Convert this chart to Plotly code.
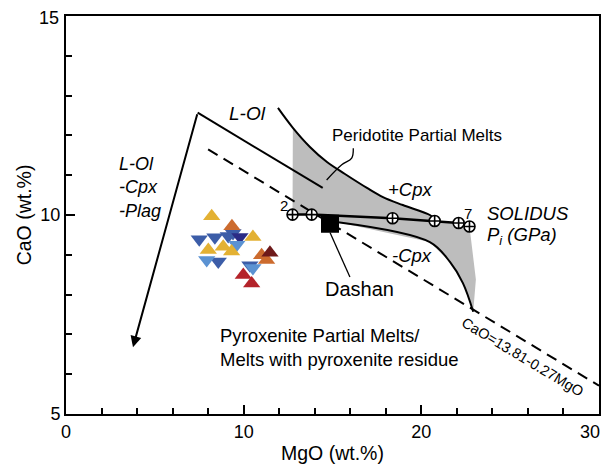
import plotly.graph_objects as go

# ---- data ----
solidus_mgo = [12.75, 13.83, 18.38, 20.75, 22.10, 22.71]
solidus_cao = [10.01, 10.01, 9.92, 9.85, 9.80, 9.71]

dashan_mgo = [14.86]
dashan_cao = [9.78]

upper_curve_mgo = [11.93, 12.77, 13.73, 14.69, 15.70, 16.94, 17.84, 18.96, 20.48, 20.82]
upper_curve_cao = [12.69, 12.19, 11.71, 11.33, 11.03, 10.68, 10.45, 10.25, 10.00, 9.88]

lower_curve_mgo = [15.31, 20.48, 21.61, 22.34, 22.92]
lower_curve_cao = [9.82, 9.32, 8.82, 8.29, 7.57]

right_edge_mgo = [22.79, 23.07, 22.92]
right_edge_cao = [9.71, 8.38, 7.57]

left_edge_mgo = [12.77, 12.77]
left_edge_cao = [12.30, 10.01]

lol_mgo = [14.45, 7.41]
lol_cao = [10.68, 12.57]
arrow_tip_mgo = 3.77
arrow_tip_cao = 6.68

regr_mgo = [8.0, 30.0]
regr_cao = [11.65, 5.71]

brace_mgo = [16.17, 16.08, 15.52, 14.67]
brace_cao = [11.68, 11.43, 11.26, 10.88]

dashan_leader_mgo = [14.86, 15.98]
dashan_leader_cao = [9.56, 8.44]

yellow_up_mgo = [8.20, 8.85, 8.01, 10.52, 9.32]
yellow_up_cao = [9.97, 9.20, 9.12, 9.45, 9.08]
orange_up_mgo = [9.34, 11.01, 11.29]
orange_up_cao = [9.72, 8.99, 8.87]
darkred_up_mgo = [11.48]
darkred_up_cao = [9.05]
red_up_mgo = [9.98, 10.45]
red_up_cao = [8.49, 8.28]
blue_dn_mgo = [7.50, 8.38, 9.13, 8.57, 10.35, 9.40]
blue_dn_cao = [9.39, 9.44, 9.47, 8.83, 8.74, 9.55]
navy_dn_mgo = [9.79]
navy_dn_cao = [9.45]
lblue_dn_mgo = [7.92, 9.61, 10.52]
lblue_dn_cao = [8.87, 9.25, 8.67]

x_ticks = [0, 10, 20, 30]
x_ticklabels = ["0", "10", "20", "30"]
y_ticks = [5, 10, 15]
y_ticklabels = ["5", "10", "15"]

FONT = "Liberation Sans"

fig = go.Figure()

# grey peridotite field
poly_x = (left_edge_mgo[:1] + upper_curve_mgo[1:] + solidus_mgo[3:] + right_edge_mgo[1:]
          + lower_curve_mgo[::-1][1:] + [solidus_mgo[1], solidus_mgo[0]])
poly_y = (left_edge_cao[:1] + upper_curve_cao[1:] + solidus_cao[3:] + right_edge_cao[1:]
          + lower_curve_cao[::-1][1:] + [solidus_cao[1], solidus_cao[0]])
fig.add_trace(go.Scatter(x=poly_x, y=poly_y, fill="toself", fillcolor="#BDBDBD",
                         line=dict(width=0), mode="lines", hoverinfo="skip"))

def line(x, y, w=2, dash=None, shape="linear"):
    fig.add_trace(go.Scatter(x=x, y=y, mode="lines",
                             line=dict(color="black", width=w, dash=dash, shape=shape)))

line(upper_curve_mgo, upper_curve_cao, shape="spline")
line(lower_curve_mgo, lower_curve_cao, shape="spline")
line(lol_mgo, lol_cao)
line(regr_mgo, regr_cao, dash="11px,7px")
line(brace_mgo, brace_cao, w=1.3, shape="spline")
line(dashan_leader_mgo, dashan_leader_cao, w=1.3)
line(solidus_mgo[:5], solidus_cao[:5], w=2.5)

# solidus points
fig.add_trace(go.Scatter(x=solidus_mgo, y=solidus_cao, mode="markers",
                         marker=dict(symbol="circle-cross", size=11, color="white",
                                     line=dict(color="black", width=1.6))))

# triangles
def tri(x, y, sym, col):
    fig.add_trace(go.Scatter(x=x, y=y, mode="markers",
                             marker=dict(symbol=sym, size=15, color=col, line=dict(width=0))))

tri(blue_dn_mgo, blue_dn_cao, "triangle-down", "#3C5DA8")
tri(navy_dn_mgo, navy_dn_cao, "triangle-down", "#2B2C86")
tri(lblue_dn_mgo, lblue_dn_cao, "triangle-down", "#5B92D2")
tri(yellow_up_mgo, yellow_up_cao, "triangle-up", "#E3B133")
tri(orange_up_mgo, orange_up_cao, "triangle-up", "#CC6B2E")
tri(red_up_mgo, red_up_cao, "triangle-up", "#B4232A")
tri(darkred_up_mgo, darkred_up_cao, "triangle-up", "#6E1A1A")

# Dashan square
fig.add_trace(go.Scatter(x=dashan_mgo, y=dashan_cao, mode="markers",
                         marker=dict(symbol="square", size=18, color="black")))

# arrow
fig.add_annotation(x=arrow_tip_mgo, y=arrow_tip_cao, ax=lol_mgo[1], ay=lol_cao[1],
                   xref="x", yref="y", axref="x", ayref="y", text="",
                   showarrow=True, arrowhead=2, arrowsize=1.1, arrowwidth=2, arrowcolor="black")

def txt(x, y, t, size=17, italic=False, xanchor="center", angle=0, align="left"):
    fig.add_annotation(x=x, y=y, xref="x", yref="y", text=t, showarrow=False,
                       xanchor=xanchor, yanchor="middle", textangle=angle, align=align,
                       font=dict(family=FONT, size=size, color="black",
                                 style="italic" if italic else "normal"))

txt(10.19, 12.54, "L-Ol", size=19, italic=True)
txt(2.87, 10.70, "L-Ol<br>-Cpx<br>-Plag", size=18, italic=True, xanchor="left")
txt(19.75, 12.0, "Peridotite Partial Melts", size=17)
txt(19.35, 10.63, "+Cpx", size=18.5, italic=True)
txt(19.45, 8.97, "-Cpx", size=18.5, italic=True)
txt(23.6, 10.05, "SOLIDUS", size=18.5, italic=True, xanchor="left")
txt(23.6, 9.47, "P<sub>i</sub> (GPa)", size=18.5, italic=True, xanchor="left")
txt(12.25, 10.23, "2", size=15)
txt(22.6, 10.05, "7", size=15)
txt(16.5, 8.15, "Dashan", size=20)
txt(8.55, 6.68, "Pyroxenite Partial Melts/<br>Melts with pyroxenite residue", size=18.5, xanchor="left")
txt(25.7, 6.42, "CaO=13.81-0.27MgO", size=14.5, angle=31)

# edge tick labels drawn as annotations so they stay inside the page
tickfont = dict(family=FONT, size=18, color="black")
fig.add_annotation(x=x_ticks[-1], y=0, xref="x", yref="paper", text=x_ticklabels[-1],
                   showarrow=False, xanchor="right", yanchor="middle", xshift=3, yshift=-18,
                   font=tickfont)
fig.add_annotation(x=0, y=y_ticks[-1], xref="paper", yref="y", text=y_ticklabels[-1],
                   showarrow=False, xanchor="right", yanchor="middle", xshift=-5, yshift=-2,
                   font=tickfont)

axis_common = dict(showline=True, linewidth=2, linecolor="black", mirror=True,
                   ticks="inside", ticklen=9, tickwidth=2, tickcolor="black",
                   showgrid=False, zeroline=False, automargin=False,
                   ticklabeloverflow="allow", tickfont=tickfont)

fig.update_xaxes(range=[0, 30], tickvals=x_ticks, ticktext=x_ticklabels[:-1] + [""],
                 minor=dict(dtick=2, ticks="inside", ticklen=6, tickwidth=2, tickcolor="black"),
                 title=dict(text="MgO (wt.%)", font=dict(family=FONT, size=19.5, color="black"),
                            standoff=6),
                 **axis_common)
fig.update_yaxes(range=[5, 15], tickvals=y_ticks, ticktext=y_ticklabels[:-1] + [""],
                 minor=dict(dtick=1, ticks="inside", ticklen=6, tickwidth=2, tickcolor="black"),
                 title=dict(text="CaO (wt.%)", font=dict(family=FONT, size=19.5, color="black"),
                            standoff=4),
                 **axis_common)

# page body adds an 8px offset; size the figure so the plot box lands where the reference has it
fig.update_layout(width=601, height=458, showlegend=False,
                  margin=dict(l=58, r=10, t=8, b=52),
                  paper_bgcolor="white", plot_bgcolor="white")

fig.write_html("out.html")
